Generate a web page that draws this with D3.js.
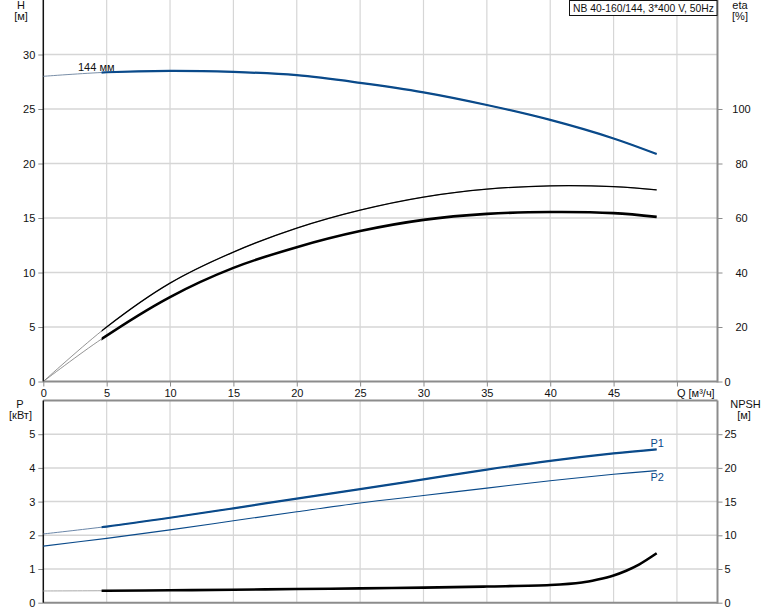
<!DOCTYPE html>
<html><head><meta charset="utf-8">
<script src="https://cdn.jsdelivr.net/npm/d3@7"></script>
<style>
body{margin:0;background:#fff;}
svg{display:block;font-family:"Liberation Sans",Arial,sans-serif;}
</style></head>
<body><svg id="c" width="774" height="611"></svg>
<script>
// ---- data ----
const title = "NB 40-160/144, 3*400 V, 50Hz";
const qTicks = [0,5,10,15,20,25,30,35,40,45];
const hTicks = [0,5,10,15,20,25,30];
const etaTicks = [0,20,40,60,80,100];
const pTicks = [0,1,2,3,4,5];
const npshTicks = [0,5,10,15,20,25];
const qStart = 4.6;

const qH = [0,5,10,15,20,25,30,35,40,45,48.4];
const headH = [28.0,28.37,28.5,28.4,28.1,27.4,26.53,25.37,24.0,22.3,20.87];

const qEtaUp = [0,5,10,15,20,25,30,35,40,45,48.4];
const etaUp = [0,20,36.1,47.5,56.3,62.9,67.7,70.6,71.8,71.5,70.3];

const qEtaLo = [0,4.6,10,15,20,25,30,35,40,45,48.4];
const etaLo = [0,15.6,31,41.7,49.3,55.2,59.3,61.5,62.2,61.8,60.4];

const qP = [0,5,10,15,20,25,30,35,40,45,48.4];
const p1 = [2.04,2.26,2.52,2.80,3.09,3.37,3.66,3.95,4.21,4.43,4.55];
const p2 = [1.68,1.91,2.16,2.43,2.70,2.96,3.18,3.40,3.62,3.81,3.92];

const qN = [0,5,10,15,20,25,30,35,40,42.5,43.75,45,46,47,48.4];
const npsh = [1.74,1.78,1.84,1.93,2.03,2.12,2.23,2.40,2.62,3.0,3.45,4.05,4.75,5.65,7.33];

// ---- layout ----
const svg = d3.select("#c");
const L = 43.3, R = 717.5;
const x = d3.scaleLinear().domain([0,53.2]).range([L,R]);
const yH = d3.scaleLinear().domain([0,35]).range([381.5,0]);
const yEta = d3.scaleLinear().domain([0,140]).range([381.5,0]);
const yP = d3.scaleLinear().domain([0,6]).range([602.7,400.5]);
const yN = d3.scaleLinear().domain([0,30]).range([602.7,400.5]);

const gridC = "#d6d6d6", axisC = "#8c8c8c", txtC = "#111", blue = "#0a4a8a";
const font = "11px";

function grid(yScale, ticks, top, bottom){
  const g = svg.append("g");
  g.selectAll(".v").data(qTicks.concat([50]).filter(d=>d>0)).join("line")
    .attr("x1",d=>x(d)).attr("x2",d=>x(d)).attr("y1",top).attr("y2",bottom)
    .attr("stroke",gridC).attr("stroke-width",1.2);
  g.selectAll(".h").data(ticks.filter(d=>d>0)).join("line")
    .attr("x1",L).attr("x2",R).attr("y1",d=>yScale(d)).attr("y2",d=>yScale(d))
    .attr("stroke",gridC).attr("stroke-width",1.5);
}
grid(yH, hTicks, 0, yH(0));
grid(yP, pTicks, yP(6), yP(0));

function styleAxis(g){
  g.selectAll("text").attr("fill",txtC).style("font-size",font).style("font-family","Liberation Sans, Arial, sans-serif");
  g.selectAll(".tick line").attr("stroke",axisC);
  g.select(".domain").remove();
  return g;
}
const fmt = d=>String(d);

// top plot axes
styleAxis(svg.append("g").attr("transform",`translate(${L},0)`)
  .call(d3.axisLeft(yH).tickValues(hTicks).tickSize(5).tickPadding(3).tickFormat(fmt)));
const ea = styleAxis(svg.append("g").attr("transform",`translate(${R},0)`)
  .call(d3.axisRight(yEta).tickValues(etaTicks).tickSize(5).tickPadding(2).tickFormat(fmt)));
ea.selectAll(".tick text").filter(d=>d>0).attr("text-anchor","middle").attr("x",24);
const xa = svg.append("g").attr("transform",`translate(0,${yH(0)})`)
  .call(d3.axisBottom(x).tickValues(qTicks.concat([50])).tickSize(5).tickPadding(3).tickFormat(d=>d===50?"":fmt(d)));
styleAxis(xa);
svg.append("text").attr("x",x(50)).attr("y",397).attr("fill",txtC).style("font-size",font).text("Q [м³/ч]");

// bottom plot axes
styleAxis(svg.append("g").attr("transform",`translate(${L},0)`)
  .call(d3.axisLeft(yP).tickValues(pTicks).tickSize(5).tickPadding(3).tickFormat(fmt)));
styleAxis(svg.append("g").attr("transform",`translate(${R},0)`)
  .call(d3.axisRight(yN).tickValues(npshTicks).tickSize(5).tickPadding(2).tickFormat(fmt)));

// axis lines
function lines(top,bottom){
  svg.append("line").attr("x1",L).attr("x2",R).attr("y1",bottom).attr("y2",bottom).attr("stroke",axisC).attr("stroke-width",2);
  svg.append("line").attr("x1",R).attr("x2",R).attr("y1",top).attr("y2",bottom+1).attr("stroke",axisC).attr("stroke-width",2);
  svg.append("line").attr("x1",L).attr("x2",L).attr("y1",top).attr("y2",bottom).attr("stroke","#111").attr("stroke-width",1.5);
}
lines(0, yH(0));
svg.append("line").attr("x1",L).attr("x2",R).attr("y1",400.5).attr("y2",400.5).attr("stroke",axisC).attr("stroke-width",2);
lines(400.5, yP(0));

// clip for main (thick) part
const defs = svg.append("defs");
defs.append("clipPath").attr("id","clipTop").append("rect")
  .attr("x",x(qStart)).attr("y",0).attr("width",R-x(qStart)).attr("height",yH(0));
defs.append("clipPath").attr("id","clipBot").append("rect")
  .attr("x",x(qStart)).attr("y",400).attr("width",R-x(qStart)).attr("height",205);

function curve(qs, vs, ys, color, thinW, thickW, clip, thinColor){
  const data = qs.map((q,i)=>[q,vs[i]]);
  const line = d3.line().x(d=>x(d[0])).y(d=>ys(d[1])).curve(d3.curveCatmullRom.alpha(0.5));
  svg.append("path").attr("d",line(data)).attr("fill","none")
    .attr("stroke",thinColor||color).attr("stroke-width",thinW);
  if(thickW){
    svg.append("path").attr("d",line(data)).attr("fill","none")
      .attr("stroke",color).attr("stroke-width",thickW).attr("clip-path",`url(#${clip})`);
  }
}
curve(qH, headH, yH, blue, 1, 2.2, "clipTop", "#7a8fa8");
curve(qEtaUp, etaUp, yEta, "#000", 0.8, 1.3, "clipTop", "#777");
curve(qEtaLo, etaLo, yEta, "#000", 0.8, 2.6, "clipTop", "#777");
curve(qP, p1, yP, blue, 1, 2.2, "clipBot", "#6a86a8");
curve(qP, p2, yP, blue, 1.1, 0, null, blue);
curve(qN, npsh, yN, "#000", 1, 2.6, "clipBot", "#aaa");

// labels
function txt(xp, yp, s, anchor, color){
  return svg.append("text").attr("x",xp).attr("y",yp).attr("text-anchor",anchor||"start")
    .attr("fill",color||txtC).style("font-size",font).text(s);
}
txt(78, 71, "144 мм");
txt(650.5, 447, "P1", "start", blue);
txt(650.5, 481, "P2", "start", blue);
txt(21, 9, "H", "middle");
txt(21, 20, "[м]", "middle");
txt(740, 9, "eta", "middle");
txt(740, 20, "[%]", "middle");
txt(20, 408, "P", "middle");
txt(20.5, 419, "[кВт]", "middle");
txt(745.5, 408, "NPSH", "middle");
txt(744, 419, "[м]", "middle");

// title box
svg.append("rect").attr("x",569.5).attr("y",0.5).attr("width",147.5).attr("height",15)
  .attr("fill","#fff").attr("stroke","#111").attr("stroke-width",1);
txt(573, 11.5, title).attr("textLength",141).attr("lengthAdjust","spacingAndGlyphs");
</script>
</body></html>
